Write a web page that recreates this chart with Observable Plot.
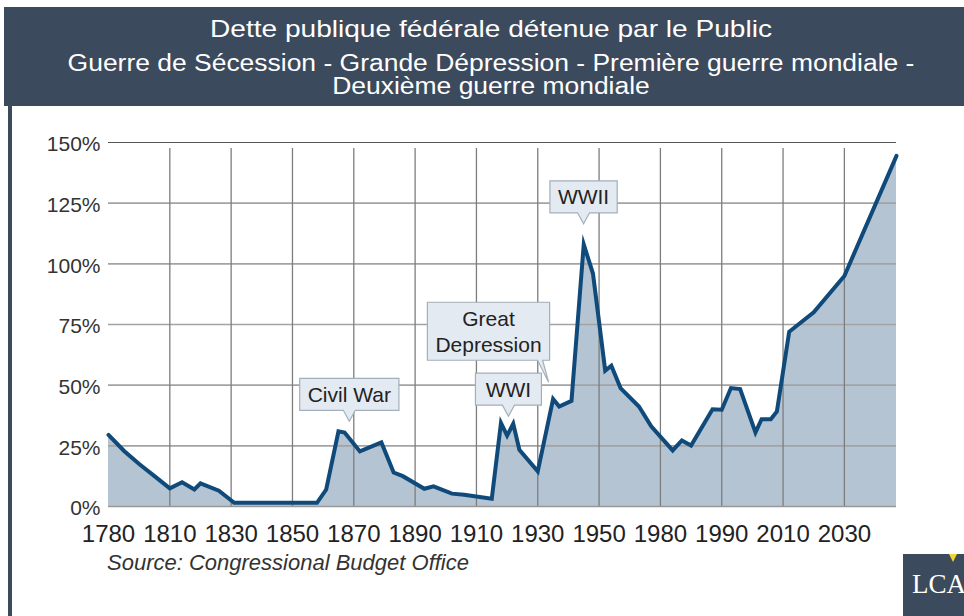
<!DOCTYPE html>
<html><head><meta charset="utf-8">
<script src="https://cdn.jsdelivr.net/npm/d3@7"></script>
<script src="https://cdn.jsdelivr.net/npm/@observablehq/plot@0.6"></script>
<style>
html,body{margin:0;padding:0;background:#fff;}
body{width:964px;height:616px;position:relative;overflow:hidden;font-family:"Liberation Sans",Arial,sans-serif;}
#band{position:absolute;left:4px;top:7px;width:960px;height:99px;background:#3b4a5d;}
#lbar{position:absolute;left:8px;top:100px;width:4px;height:516px;background:#3b4a5d;}
.hl{position:absolute;left:0;width:982px;text-align:center;color:#fff;white-space:nowrap;line-height:0;transform-origin:50% 0;}
#title{top:28.7px;font-size:24px;transform:scaleX(1.17);}
#sub1{top:63px;font-size:23px;transform:scaleX(1.15);}
#sub2{top:85.5px;font-size:23px;transform:scaleX(1.15);}
#chart{position:absolute;left:0;top:106px;}
#source{position:absolute;left:107px;top:563px;line-height:0;font-size:22px;font-style:italic;color:#333;white-space:nowrap;}
#logo{position:absolute;left:903px;top:554px;width:61px;height:62px;background:#3b4a5d;overflow:hidden;}
#logo span{position:absolute;left:9px;top:30px;line-height:0;font-family:"Liberation Serif",serif;font-size:27px;color:#fff;}
#logo i{position:absolute;left:46px;top:0;width:0;height:0;border-left:4px solid transparent;border-right:4px solid transparent;border-top:8px solid #f2d630;}
</style>
</head><body>
<div id="band"></div>
<div id="lbar"></div>
<div class="hl" id="title">Dette publique fédérale détenue par le Public</div>
<div class="hl" id="sub1">Guerre de Sécession - Grande Dépression - Première guerre mondiale -</div>
<div class="hl" id="sub2">Deuxième guerre mondiale</div>
<div id="chart"></div>
<div id="source">Source: Congressional Budget Office</div>
<div id="logo"><span>LCA</span><i></i></div>
<script>
// ---- data ----
const years = [1790,1795,1800,1805,1810,1814,1818,1820,1826,1831,1858,1861,1865,1867,1872,1879,1883,1886,1893,1896,1902,1906,1915,1918,1920,1922,1924,1930,1935,1937,1941,1945,1948,1952,1954,1957,1963,1967,1974,1977,1980,1987,1990,1993,1996,2001,2003,2006,2008,2012,2020,2030,2047];
const debtPct = [29.5,23,17.5,12.5,7.5,10,7,9.5,6.5,1.5,1.5,7,31,30.5,22.7,26.4,14,12.5,7.3,8.3,5.3,4.8,3.2,34.4,29.2,34.1,23.4,14.5,44.3,41.2,43.5,108,96,56,58,48.8,41.2,33,23.1,27.2,25.1,40.1,39.9,48.8,48.4,30.5,36,36,39.2,72,80,95,144.5];
const xTickYears = [1790,1810,1830,1850,1870,1890,1910,1930,1950,1970,1990,2010,2030];
const xTickLabels = ["1780","1810","1830","1850","1870","1890","1910","1930","1950","1980","1990","2010","2030"];
const yTicks = [0,25,50,75,100,125,150];
const annLabels = ["Civil War","WWI","Great\nDepression","WWII"];
const annYears = [1868.7,1920.6,1933.7,1945.1];
const annValues = [34.9,37,51,116.3];
const annPointer = ["center","center","right","center"];

const data = years.map((y,i)=>({year:y, value:debtPct[i]}));
const labelMap = new Map(xTickYears.map((y,i)=>[y, xTickLabels[i]]));

const FONT = '"Liberation Sans", Arial, sans-serif';
const canvas = document.createElement("canvas");
const cctx = canvas.getContext("2d");
cctx.font = "21px " + FONT;

function callouts(index, scales) {
  const g = d3.create("svg:g");
  const lh = 26, padY = 3, padX = 8;
  annLabels.forEach((lab, i) => {
    const lines = lab.split("\n");
    const tw = Math.max(...lines.map(l => cctx.measureText(l).width));
    const w = Math.max(66, tw + 2*padX);
    const h = lines.length*lh + 2*padY;
    const px = scales.x(annYears[i]), py = scales.y(annValues[i]);
    let left, top, path;
    if (annPointer[i] === "right") {
      const right = px + 1, bottom = py - 22;
      left = right - w; top = bottom - h;
      path = `M${left},${top}H${right}V${bottom}H${right-7}L${px},${py}L${right-12},${bottom}H${left}Z`;
    } else {
      const bottom = py - 11;
      left = px - w/2; top = bottom - h;
      path = `M${left},${top}H${left+w}V${bottom}H${px+6}L${px},${py}L${px-6},${bottom}H${left}Z`;
    }
    g.append("path").attr("d", path).attr("fill", "#e4eaf1").attr("stroke", "#a3afbb").attr("stroke-width", 1.2);
    lines.forEach((l, j) => {
      g.append("text").attr("x", left + w/2).attr("y", top + padY + lh*(j+0.5))
        .attr("dy", "0.35em").attr("text-anchor", "middle")
        .attr("font-size", 21).attr("font-family", FONT).attr("fill", "#222").text(l);
    });
  });
  return g.node();
}

const chart = Plot.plot({
  width: 964, height: 440,
  marginLeft: 108, marginRight: 68, marginTop: 36, marginBottom: 40,
  style: {fontFamily: FONT, background: "transparent", overflow: "visible"},
  x: {type: "linear", domain: [1790, 2047]},
  y: {domain: [0, 150]},
  marks: [
    Plot.areaY(data, {x: "year", y: "value", fill: "#b4c4d2"}),
    Plot.ruleY(yTicks.filter(v => v > 0 && v < 150), {stroke: "#a3a3a3", strokeWidth: 1.6}),
    Plot.ruleX(xTickYears.slice(1), {y1: 0, y2: 150, insetBottom: -6, stroke: "#7d7d7d", strokeWidth: 1.3}),
    Plot.ruleY([150], {stroke: "#555", strokeWidth: 1.2}),
    Plot.ruleY([0], {stroke: "#999", strokeWidth: 1.5}),
    Plot.line(data, {x: "year", y: "value", stroke: "#0f4a7a", strokeWidth: 4, strokeLinejoin: "miter", strokeMiterlimit: 10}),
    Plot.axisY({ticks: yTicks, tickFormat: d => d + "%", tickSize: 0, tickPadding: 8, fontSize: 21, fill: "#333", dy: 2, label: null}),
    Plot.axisX({ticks: xTickYears, tickFormat: d => labelMap.get(d), tickSize: 0, tickPadding: 18, fontSize: 24, fontFamily: '"Liberation Sans Narrow", "Liberation Sans", Arial, sans-serif', fill: "#222", label: null}),
    callouts
  ]
});
document.getElementById("chart").appendChild(chart);
</script>
</body></html>
